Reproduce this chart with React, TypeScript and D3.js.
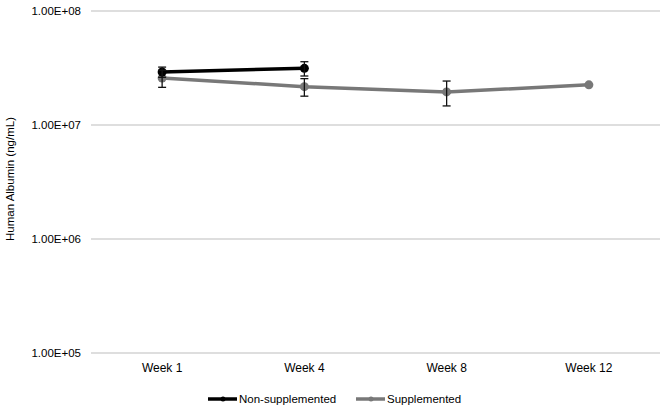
import React from "react";
import * as d3 from "d3";

const categories = ["Week 1", "Week 4", "Week 8", "Week 12"];
const nonSupplemented = [2.92e7, 3.14e7];
const nonSupplementedErr = [3.0e6, 4.5e6];
const supplemented = [2.58e7, 2.17e7, 1.95e7, 2.25e7];
const supplementedErr = [4.4e6, 3.8e6, 4.8e6, 0];
const yTicks = [1e5, 1e6, 1e7, 1e8];
const seriesNames = ["Non-supplemented", "Supplemented"];

const W = 666, H = 413;
const left = 91, right = 660, top = 11, bottom = 353;
const FONT = "'Liberation Sans', Arial, sans-serif";

export default function App() {
  const x = d3.scaleBand<string>().domain(categories).range([left, right]);
  const y = d3.scaleLog().domain([1e5, 1e8]).range([bottom, top]);
  const cx = (c: string) => (x(c) as number) + x.bandwidth() / 2;
  const fmt = (v: number) => {
    const e = Math.round(Math.log10(v));
    return "1.00E+" + String(e).padStart(2, "0");
  };
  const series = [
    { name: seriesNames[0], vals: nonSupplemented, err: nonSupplementedErr, color: "#000000" },
    { name: seriesNames[1], vals: supplemented, err: supplementedErr, color: "#787878" },
  ];
  const line = d3.line<number>().x((_, i) => cx(categories[i])).y((d) => y(d));
  return (
    <svg width={W} height={H} style={{ position: "absolute", left: 0, top: 0, background: "#fff" }} fontFamily={FONT}>
      {yTicks.map((t) => (
        <g key={t}>
          <line x1={left} x2={right} y1={y(t)} y2={y(t)} stroke="#bdbdbd" strokeWidth={1} />
          <text x={81} y={y(t)} dy="0.35em" textAnchor="end" fontSize={11.5} fill="#000">{fmt(t)}</text>
        </g>
      ))}
      {categories.map((c) => (
        <text key={c} x={cx(c)} y={368} dy="0.35em" textAnchor="middle" fontSize={12} fill="#000">{c}</text>
      ))}
      <text transform={`translate(10,${(top + bottom) / 2 - 3}) rotate(-90)`} dy="0.35em" textAnchor="middle" fontSize={11.5} fill="#000">Human Albumin (ng/mL)</text>
      {[...series].reverse().map((s) => (
        <g key={s.name}>
          <path d={line(s.vals) || ""} fill="none" stroke={s.color} strokeWidth={3.5} />
          {s.vals.map((v, i) => (
            <circle key={i} cx={cx(categories[i])} cy={y(v)} r={4.5} fill={s.color} />
          ))}
        </g>
      ))}
      {series.map((s) => (
        <g key={s.name + "err"}>
          {s.vals.map((v, i) => {
            const e = s.err[i];
            if (!e) return null;
            const px = cx(categories[i]);
            const y1 = y(v + e), y2 = y(v - e);
            return (
              <g key={i} stroke="#111" strokeWidth={1.3}>
                <line x1={px} x2={px} y1={y1} y2={y2} />
                <line x1={px - 4} x2={px + 4} y1={y1} y2={y1} />
                <line x1={px - 4} x2={px + 4} y1={y2} y2={y2} />
              </g>
            );
          })}
        </g>
      ))}
      {series.map((s, i) => {
        const lx = i === 0 ? 208 : 356;
        return (
          <g key={s.name + "leg"}>
            <line x1={lx} x2={lx + 29} y1={399} y2={399} stroke={s.color} strokeWidth={3.5} />
            <circle cx={lx + 15} cy={399} r={2.5} fill={s.color} />
            <text x={lx + 31} y={399} dy="0.35em" fontSize={11.5} fill="#000">{s.name}</text>
          </g>
        );
      })}
    </svg>
  );
}
